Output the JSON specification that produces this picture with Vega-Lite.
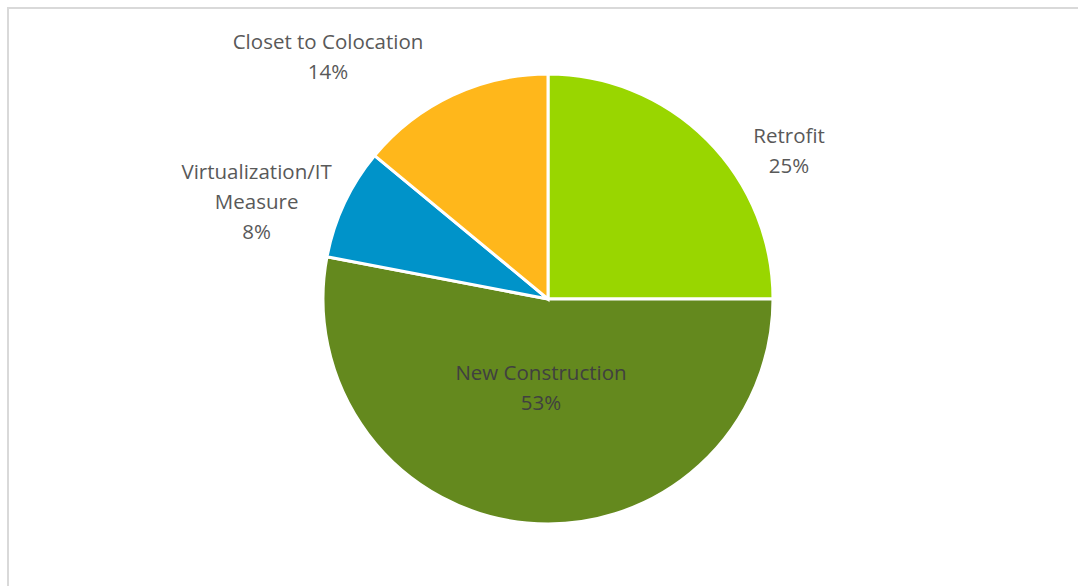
{
  "$schema": "https://vega.github.io/schema/vega-lite/v6.json",
  "width": 1080,
  "height": 582,
  "autosize": {"type": "none"},
  "padding": {"left": 8, "top": 8, "right": -10, "bottom": -4},
  "background": "white",
  "view": {"stroke": "#d9d9d9", "strokeWidth": 2},
  "config": {
    "text": {"font": "Open Sans", "fontSize": 20.5, "lineHeight": 30, "lineBreak": "\n", "align": "center", "baseline": "middle"}
  },
  "data": {
    "values": [
      {"category": "Retrofit", "value": 25, "rank": 1, "label": "Retrofit\n25%"},
      {"category": "New Construction", "value": 53, "rank": 2, "label": "New Construction\n53%"},
      {"category": "Virtualization/IT Measure", "value": 8, "rank": 3, "label": "Virtualization/IT\nMeasure\n8%"},
      {"category": "Closet to Colocation", "value": 14, "rank": 4, "label": "Closet to Colocation\n14%"}
    ]
  },
  "encoding": {
    "theta": {"field": "value", "type": "quantitative", "stack": true},
    "order": {"field": "rank", "type": "quantitative"}
  },
  "layer": [
    {
      "mark": {"type": "arc", "outerRadius": 225, "stroke": "white", "strokeWidth": 3},
      "encoding": {
        "color": {
          "field": "category",
          "type": "nominal",
          "scale": {
            "domain": ["Retrofit", "New Construction", "Virtualization/IT Measure", "Closet to Colocation"],
            "range": ["#99D600", "#64891E", "#0093C9", "#FFB71B"]
          },
          "legend": null
        }
      }
    },
    {
      "mark": {"type": "text", "radius": 290, "dx": 36, "dy": 43, "color": "#595959"},
      "encoding": {"text": {"condition": {"test": "datum.category === 'Retrofit'", "field": "label"}, "value": ""}}
    },
    {
      "mark": {"type": "text", "radius": 90, "dx": 1.5, "dy": -15, "color": "#404040"},
      "encoding": {"text": {"condition": {"test": "datum.category === 'New Construction'", "field": "label"}, "value": ""}}
    },
    {
      "mark": {"type": "text", "radius": 290, "dx": -29, "dy": -3, "color": "#595959"},
      "encoding": {"text": {"condition": {"test": "datum.category === 'Virtualization/IT Measure'", "field": "label"}, "value": ""}}
    },
    {
      "mark": {"type": "text", "radius": 270, "dx": -105, "dy": -12, "color": "#595959"},
      "encoding": {"text": {"condition": {"test": "datum.category === 'Closet to Colocation'", "field": "label"}, "value": ""}}
    }
  ]
}
